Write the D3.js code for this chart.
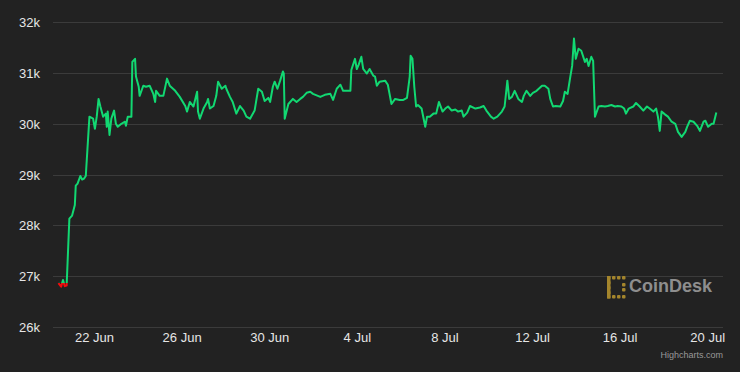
<!DOCTYPE html>
<html lang="en">
<head>
    <meta charset="UTF-8">
    <title>BTC price</title>
    <script src="https://d3js.org/d3.v7.min.js"></script>
    <style>
        body {
            margin: 0;
            padding: 0;
            background-color: #222222;
        }

        svg {
            display: block;
            font-family: "Liberation Sans", Arial, Helvetica, sans-serif;
        }

        .axis-label {
            font-size: 13px;
            fill: #e6e6e6;
        }

        .grid-line {
            stroke: #3b3b3b;
            stroke-width: 1;
        }
    </style>
</head>
<body>
    <svg id="chart" width="740" height="372"></svg>
    <script>
        // hours since 20 Jun 2023 00:00 UTC
        const hours = [
            9, 12, 14, 16, 18, 21, 24, 27, 28, 30,
            33, 35, 37, 39, 43, 47, 49, 51, 53, 55,
            58, 61, 62, 63, 65, 67, 70, 72, 74, 78,
            82, 83, 85, 89, 90, 93, 94, 97, 98, 102,
            105, 109, 113, 115, 116, 120, 124, 128, 131, 137,
            142, 148, 150, 153, 157, 161, 162, 164, 168, 172,
            173, 175, 179, 182, 184, 188, 192, 193, 197, 200,
            204, 208, 212, 215, 219, 224, 228, 232, 235, 239,
            241, 244, 246, 249, 252, 255, 256, 257, 261, 266,
            270, 274, 277, 281, 285, 288, 296, 301, 307, 310,
            314, 318, 321, 329, 330, 334, 336, 338, 341, 343,
            347, 350, 354, 356, 358, 361, 367, 370, 374, 378,
            383, 387, 391, 394, 395, 397, 399, 401, 403, 407,
            411, 413, 416, 420, 423, 426, 430, 433, 436, 440,
            444, 447, 451, 453, 457, 460, 466, 471, 475, 478,
            483, 486, 490, 495, 498, 501, 503, 506, 509, 513,
            517, 519, 522, 526, 529, 533, 539, 542, 546, 548,
            551, 554, 559, 562, 564, 567, 570, 572, 574, 576,
            579, 582, 586, 588, 590, 593, 595, 597, 601, 604,
            608, 611, 615, 619, 622, 626, 629, 631, 634, 639,
            642, 646, 650, 654, 657, 661, 664, 666, 668, 670,
            674, 677, 681, 685, 688, 692, 696, 698, 701, 705,
            709, 712, 716, 718, 721, 725, 727, 730
        ];

        const prices = [
            26860, 26790, 26920, 26800, 26810, 28130, 28190, 28400, 28780, 28820,
            28970, 28900, 28920, 28970, 30140, 30100, 29900, 30140, 30490, 30340,
            30140, 30200, 29940, 30240, 29780, 30100, 30260, 30000, 29940, 30000,
            30040, 29960, 30140, 30140, 31220, 31280, 30930, 30730, 30550, 30750,
            30730, 30750, 30590, 30430, 30650, 30550, 30550, 30890, 30750, 30650,
            30530, 30350, 30240, 30430, 30340, 30630, 30240, 30100, 30300, 30430,
            30490, 30300, 30350, 30550, 30830, 30690, 30750, 30690, 30530, 30430,
            30200, 30350, 30260, 30140, 30100, 30260, 30690, 30630, 30450, 30510,
            30430, 30730, 30830, 30690, 30850, 31030, 30990, 30100, 30390, 30490,
            30430, 30490, 30530, 30610, 30630, 30590, 30530, 30570, 30590, 30470,
            30690, 30770, 30650, 30650, 31060, 31280, 31080, 31160, 31320, 31080,
            30990, 31080, 30950, 30930, 30750, 30830, 30850, 30770, 30390, 30490,
            30470, 30470, 30510, 30930, 31340, 31280, 30730, 30340, 30370, 30300,
            29940, 30140, 30140, 30200, 30200, 30430, 30240, 30300, 30340, 30260,
            30280, 30240, 30260, 30140, 30220, 30350, 30300, 30320, 30350, 30260,
            30140, 30100, 30140, 30240, 30340, 30850, 30490, 30530, 30650, 30490,
            30430, 30550, 30650, 30550, 30610, 30650, 30750, 30750, 30690, 30490,
            30340, 30350, 30340, 30450, 30630, 30590, 30930, 31140, 31680, 31280,
            31480, 31440, 31220, 31280, 31140, 31320, 31240, 30140, 30340, 30350,
            30340, 30350, 30370, 30340, 30350, 30340, 30300, 30200, 30300, 30340,
            30410, 30340, 30260, 30340, 30300, 30240, 30300, 30140, 29860, 30240,
            30180, 30140, 30040, 30000, 29840, 29740, 29840, 29940, 30060, 30040,
            29960, 29860, 30040, 30060, 29940, 30000, 30000, 30220
        ];

        const yTicks = [26000, 27000, 28000, 29000, 30000, 31000, 32000];
        const xTickDates = ["2023-06-22", "2023-06-26", "2023-06-30", "2023-07-04",
            "2023-07-08", "2023-07-12", "2023-07-16", "2023-07-20"];

        const svg = d3.select("#chart");
        const startTime = Date.UTC(2023, 5, 20);
        const data = hours.map((h, i) => ({ t: new Date(startTime + h * 3600000), p: prices[i] }));
        const threshold = prices[0];

        const plotLeft = 53, plotRight = 723;

        const x = d3.scaleUtc()
            .domain([new Date("2023-06-22T00:00Z"), new Date("2023-07-20T00:00Z")])
            .range([94, 707.2]);

        const y = d3.scaleLinear()
            .domain([26000, 32000])
            .range([326.7, 22.3]);

        // grid lines
        svg.append("g")
            .selectAll("line")
            .data(yTicks)
            .join("line")
            .attr("class", "grid-line")
            .attr("x1", plotLeft)
            .attr("x2", plotRight)
            .attr("y1", d => Math.round(y(d)) + 0.5)
            .attr("y2", d => Math.round(y(d)) + 0.5);

        // y axis labels
        const yAxis = svg.append("g")
            .attr("transform", "translate(40,0)")
            .call(d3.axisLeft(y).tickValues(yTicks).tickSize(0).tickPadding(0)
                .tickFormat(d => d / 1000 + "k"));
        yAxis.select(".domain").remove();
        yAxis.selectAll("text")
            .attr("class", "axis-label")
            .attr("fill", null)
            .attr("dy", "0.36em")
            .style("font-size", "13px");

        // x axis labels
        const xAxis = svg.append("g")
            .attr("transform", "translate(0,333)")
            .call(d3.axisBottom(x)
                .tickValues(xTickDates.map(d => new Date(d + "T00:00Z")))
                .tickSize(0).tickPadding(0)
                .tickFormat(d3.utcFormat("%-d %b")));
        xAxis.select(".domain").remove();
        xAxis.selectAll("text")
            .attr("class", "axis-label")
            .attr("fill", null)
            .attr("dy", "0.71em")
            .style("font-size", "13px");

        // logo watermark
        const logo = svg.append("g").attr("transform", "translate(607,276)");
        const dots = [
            [0, 0], [5, 0], [10, 0], [15, 0],
            [0, 5], [0, 10], [0, 15],
            [15, 7], [15, 12],
            [0, 19], [5, 19], [10, 19], [15, 19]
        ];
        logo.selectAll("rect")
            .data(dots)
            .join("rect")
            .attr("x", d => d[0])
            .attr("y", d => d[1])
            .attr("width", 3.5)
            .attr("height", 3.5)
            .attr("rx", 1)
            .attr("fill", "#a4852c");
        logo.append("rect")
            .attr("x", 0).attr("y", 0).attr("width", 3.5).attr("height", 22.5)
            .attr("fill", "#a4852c");
        logo.append("text")
            .attr("x", 22)
            .attr("y", 16)
            .attr("fill", "#8e8e8e")
            .style("font-size", "18px")
            .style("font-weight", "bold")
            .text("CoinDesk");

        // clip paths for zones above/below the opening price
        const defs = svg.append("defs");
        defs.append("clipPath").attr("id", "clip-up")
            .append("rect")
            .attr("x", 0).attr("y", 0)
            .attr("width", 740).attr("height", y(threshold));
        defs.append("clipPath").attr("id", "clip-down")
            .append("rect")
            .attr("x", 0).attr("y", y(threshold))
            .attr("width", 740).attr("height", 372 - y(threshold));

        const line = d3.line()
            .x(d => x(d.t))
            .y(d => y(d.p));

        svg.append("path")
            .datum(data)
            .attr("clip-path", "url(#clip-up)")
            .attr("fill", "none")
            .attr("stroke", "#12d872")
            .attr("stroke-width", 2)
            .attr("stroke-linejoin", "round")
            .attr("d", line);

        svg.append("path")
            .datum(data)
            .attr("clip-path", "url(#clip-down)")
            .attr("fill", "none")
            .attr("stroke", "#f20d0d")
            .attr("stroke-width", 2)
            .attr("stroke-linejoin", "round")
            .attr("d", line);

        // credits
        svg.append("text")
            .attr("x", 723)
            .attr("y", 358)
            .attr("text-anchor", "end")
            .attr("fill", "#999999")
            .style("font-size", "9px")
            .text("Highcharts.com");
    </script>
</body>
</html>
